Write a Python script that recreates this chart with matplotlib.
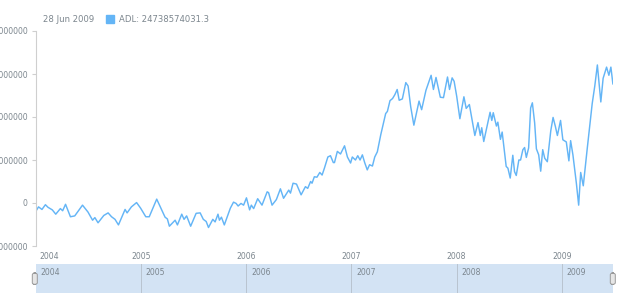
import matplotlib
matplotlib.use("Agg")
import matplotlib.pyplot as plt
import matplotlib.dates as mdates
import matplotlib.transforms as mtransforms
from matplotlib.patches import Rectangle, FancyBboxPatch
import pandas as pd

# weekly ADL readings (billions)
dates = [
    "2004-01-01", "2004-01-09", "2004-01-21", "2004-02-02", "2004-02-11", "2004-02-26", "2004-03-09", "2004-03-25", "2004-04-02", "2004-04-12",
    "2004-04-29", "2004-05-14", "2004-06-10", "2004-06-29", "2004-07-15", "2004-07-23", "2004-08-03", "2004-08-23", "2004-09-07", "2004-09-19",
    "2004-10-01", "2004-10-13", "2004-11-05", "2004-11-12", "2004-11-27", "2004-12-15", "2004-12-29", "2005-01-16", "2005-01-28", "2005-02-23",
    "2005-03-06", "2005-03-24", "2005-04-01", "2005-04-08", "2005-04-28", "2005-05-06", "2005-05-21", "2005-05-29", "2005-06-07", "2005-06-21",
    "2005-07-10", "2005-07-24", "2005-08-04", "2005-08-14", "2005-08-22", "2005-09-06", "2005-09-14", "2005-09-24", "2005-09-29", "2005-10-06",
    "2005-10-16", "2005-11-06", "2005-11-17", "2005-11-26", "2005-12-03", "2005-12-13", "2005-12-22", "2006-01-01", "2006-01-12", "2006-01-18",
    "2006-01-26", "2006-02-09", "2006-02-24", "2006-03-14", "2006-03-19", "2006-03-31", "2006-04-15", "2006-04-29", "2006-05-10", "2006-05-28",
    "2006-06-03", "2006-06-12", "2006-06-24", "2006-07-10", "2006-07-25", "2006-08-02", "2006-08-12", "2006-08-17", "2006-08-25", "2006-09-03",
    "2006-09-13", "2006-09-21", "2006-09-29", "2006-10-11", "2006-10-20", "2006-10-30", "2006-11-03", "2006-11-13", "2006-11-24", "2006-12-08",
    "2006-12-18", "2006-12-29", "2007-01-04", "2007-01-15", "2007-01-23", "2007-01-31", "2007-02-08", "2007-02-16", "2007-02-25", "2007-03-05",
    "2007-03-15", "2007-03-23", "2007-04-01", "2007-04-13", "2007-04-30", "2007-05-06", "2007-05-15", "2007-05-24", "2007-06-01", "2007-06-09",
    "2007-06-16", "2007-06-27", "2007-07-09", "2007-07-17", "2007-07-26", "2007-08-06", "2007-08-24", "2007-09-02", "2007-09-17", "2007-10-05",
    "2007-10-13", "2007-10-22", "2007-11-06", "2007-11-17", "2007-12-01", "2007-12-08", "2007-12-17", "2007-12-24", "2008-01-02", "2008-01-13",
    "2008-01-27", "2008-02-04", "2008-02-15", "2008-03-05", "2008-03-16", "2008-03-24", "2008-03-29", "2008-04-05", "2008-04-27", "2008-05-03",
    "2008-05-08", "2008-05-19", "2008-05-24", "2008-06-02", "2008-06-08", "2008-06-22", "2008-06-28", "2008-07-06", "2008-07-15", "2008-07-21",
    "2008-07-27", "2008-08-05", "2008-08-11", "2008-08-19", "2008-08-25", "2008-08-31", "2008-09-08", "2008-09-15", "2008-09-21", "2008-09-29",
    "2008-10-05", "2008-10-13", "2008-10-20", "2008-10-27", "2008-11-03", "2008-11-12", "2008-11-24", "2008-12-02", "2008-12-10", "2008-12-17",
    "2008-12-28", "2009-01-05", "2009-01-17", "2009-01-26", "2009-02-01", "2009-02-09", "2009-02-21", "2009-03-01", "2009-03-08", "2009-03-17",
    "2009-03-31", "2009-04-17", "2009-04-26", "2009-05-05", "2009-05-17", "2009-05-25", "2009-06-06", "2009-06-14", "2009-06-21", "2009-06-28",
]
adl_bn = [
    -1.8, -0.9, -1.5, -0.4, -1.0, -1.6, -2.6, -1.3, -1.8, -0.3,
    -3.2, -3.0, -0.5, -2.1, -4.0, -3.4, -4.6, -2.9, -2.3, -3.2,
    -3.8, -5.1, -1.5, -2.3, -0.9, 0.1, -1.2, -3.2, -3.2, 0.9,
    -0.7, -3.3, -3.7, -5.4, -4.0, -5.1, -2.6, -3.8, -3.0, -5.4,
    -2.4, -2.3, -3.8, -4.3, -5.7, -3.8, -4.4, -2.6, -4.0, -3.3,
    -5.1, -1.2, 0.2, -0.1, -0.7, -0.1, -0.5, 1.2, -1.6, -0.5,
    -1.3, 1.0, -0.5, 2.6, 2.4, -0.5, 0.8, 3.3, 1.1, 3.0,
    2.3, 4.6, 4.4, 1.9, 3.8, 3.4, 5.0, 4.6, 6.1, 6.0,
    7.1, 6.5, 8.1, 10.7, 11.0, 9.4, 9.4, 12.0, 11.4, 13.3,
    10.7, 9.3, 10.7, 10.0, 11.0, 10.0, 11.2, 9.4, 7.7, 8.9,
    8.6, 10.7, 11.9, 15.9, 20.8, 21.3, 23.8, 24.3, 25.2, 26.4,
    23.9, 24.2, 28.0, 27.2, 22.4, 18.1, 23.7, 21.7, 26.2, 29.7,
    26.4, 29.2, 24.6, 24.5, 29.3, 26.4, 29.1, 28.3, 24.8, 19.6,
    24.7, 22.0, 22.9, 15.7, 18.7, 15.7, 17.5, 14.3, 21.1, 19.2,
    21.0, 17.9, 18.8, 14.8, 16.5, 8.5, 8.1, 5.8, 11.1, 7.3,
    6.4, 10.0, 10.0, 12.4, 12.9, 10.6, 12.8, 22.1, 23.3, 18.6,
    12.6, 11.2, 7.4, 12.4, 10.4, 9.6, 16.8, 19.9, 17.8, 15.7,
    19.2, 14.7, 14.2, 9.8, 14.5, 11.2, 4.6, -0.5, 7.1, 4.0,
    12.8, 23.1, 27.2, 32.1, 23.5, 29.0, 31.6, 29.7, 31.6, 27.7,
]
y_ticks = [-10000000000, 0, 10000000000, 20000000000, 30000000000, 40000000000]
years = ["2004", "2005", "2006", "2007", "2008", "2009"]
legend_date = "28 Jun 2009"
legend_text = "ADL: 24738574031.3"

LINE = "#64b5f6"
GREY = "#7c868e"
W, H = 620, 300

x = pd.to_datetime(dates)
y = [v * 1e9 for v in adl_bn]
year_dates = pd.to_datetime([f"{yr}-01-01" for yr in years])

fig = plt.figure(figsize=(6.2, 3.0), dpi=100)
fig.patch.set_facecolor("white")

def px(l, t, w, h):
    return [l / W, 1 - (t + h) / H, w / W, h / H]

# main plot
ax = fig.add_axes(px(36.2, 31, 576.7, 215))
ax.plot(x, y, color=LINE, lw=1.05, solid_joinstyle="round")
ax.set_xlim(x[0], x[-1])
ax.set_ylim(y_ticks[0], y_ticks[-1])
for s in ["top", "right", "bottom"]:
    ax.spines[s].set_visible(False)
ax.spines["left"].set_color("#cfcfcf")
ax.spines["left"].set_linewidth(0.8)
ax.set_yticks(y_ticks)
ax.set_yticklabels([str(v) for v in y_ticks])
ax.tick_params(axis="y", length=3, width=0.8, color="#cfcfcf", pad=3,
               labelsize=5.6, labelcolor=GREY)
ax.set_xticks(year_dates[year_dates >= x[0]])
ax.set_xticklabels(years)
ax.tick_params(axis="x", length=0, pad=4, labelsize=5.6, labelcolor=GREY)
first = ax.get_xticklabels()[0]
first.set_ha("left")
first.set_transform(first.get_transform() +
                    mtransforms.ScaledTranslation(3 / 100, 0, fig.dpi_scale_trans))

# legend row
fig.text(42.7 / W, 1 - 19.3 / H, legend_date, fontsize=6.1, color=GREY, va="center")
fig.patches.append(Rectangle((106 / W, 1 - 23.3 / H), 8 / W, 8.5 / H,
                             transform=fig.transFigure, color=LINE))
fig.text(118.7 / W, 1 - 19.3 / H, legend_text, fontsize=6.1, color=GREY, va="center")

# scroller
sc = fig.add_axes(px(35.5, 264, 577.8, 29))
sc.set_facecolor("#d3e3f4")
sc.set_xlim(x[0], x[-1])
sc.set_ylim(0, 1)
for s in sc.spines.values():
    s.set_visible(False)
sc.set_xticks([])
sc.set_yticks([])
for d, yr in zip(year_dates, years):
    if d > x[0]:
        sc.axvline(d, color="#b9c4cf", lw=0.7)
    sc.annotate(yr, (mdates.date2num(d), 0.72), xytext=(3.5, 0), textcoords="offset points",
                fontsize=5.6, color=GREY, va="center", ha="left")

# scroller handles
for hx in (32.3, 610.3):
    fig.patches.append(FancyBboxPatch((hx / W, 1 - 284.5 / H), 5 / W, 11.5 / H,
                                      boxstyle="round,pad=0,rounding_size=0.006",
                                      transform=fig.transFigure, facecolor="#e6e6e6",
                                      edgecolor="#9a9a9a", lw=0.7))

fig.savefig("out.png", dpi=100, facecolor="white")
